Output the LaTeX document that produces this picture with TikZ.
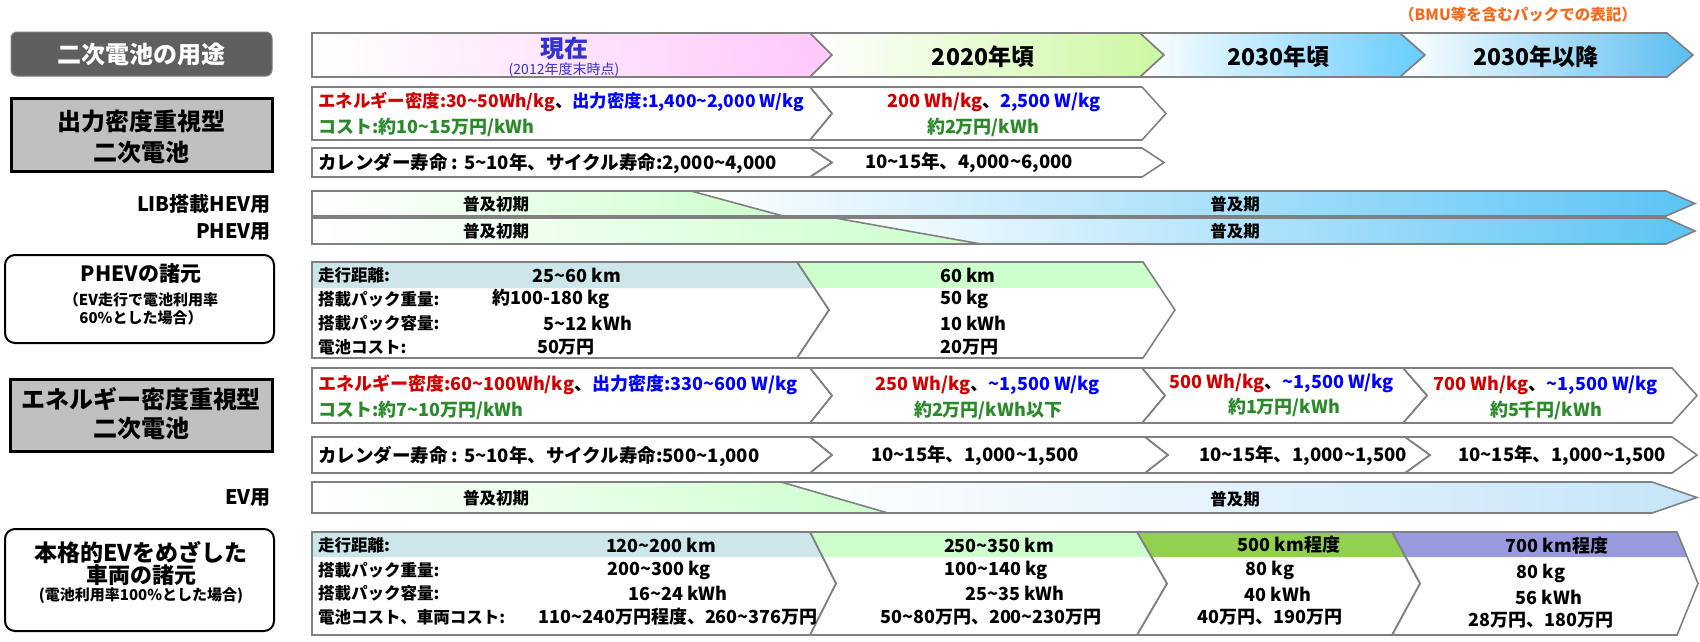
\documentclass[tikz,border=0pt]{standalone}
\usepackage{fontspec}
\setmainfont{Noto Sans CJK JP}
\newcommand\fs[1]{\fontsize{#1}{#1}\selectfont\bfseries}
\newcommand\T{\textasciitilde}
\definecolor{rd}{HTML}{D00000}
\definecolor{bl}{HTML}{0000FF}
\definecolor{gn}{HTML}{2A8A2A}
\definecolor{hb}{HTML}{3333CC}
\definecolor{org}{HTML}{F26B1D}
\definecolor{bordc}{HTML}{808080}
\definecolor{pk}{HTML}{FFC8FA}
\definecolor{lg}{HTML}{CCF7A0}
\definecolor{lbA}{HTML}{66CCFF}
\definecolor{lbB}{HTML}{5BBEF0}
\definecolor{hblue}{HTML}{5BC4F5}
\definecolor{evblue}{HTML}{C5E5F8}
\definecolor{mint}{HTML}{CCFFCC}
\definecolor{tealband}{HTML}{CCE6EA}
\definecolor{grnband}{HTML}{92D050}
\definecolor{lav}{HTML}{9999DD}
\definecolor{dk}{HTML}{5F5F5F}
\definecolor{lgray}{HTML}{C0C0C0}
\newcommand\chev[7][]{%
 \path[bd,#1] (#2,#6) -- (#4,#6) -- (#5,{(#6+#7)/2}) -- (#4,#7) -- (#2,#7) -- (#3,{(#6+#7)/2}) -- cycle;}
\begin{document}
\begin{tikzpicture}[x=1pt,y=-1pt,
  bd/.style={draw=bordc,line width=1.6pt,line join=miter},
  t/.style={inner sep=0pt,font=\fs{18}},
  tw/.style={t,anchor=west},
  cal/.style={inner sep=0pt,font=\fs{18.5}},
  sl/.style={inner sep=0pt,font=\fs{16.5},anchor=west},
  bar/.style={inner sep=0pt,font=\fs{16.5}},
  lab/.style={inner sep=0pt,font=\fs{20},anchor=east},
  ttl/.style={inner sep=0pt,font=\fs{24}},
  yr/.style={inner sep=0pt,font=\fs{23}},
  sub/.style={inner sep=0pt,font=\fs{15}},
  gbox/.style={draw=black,line width=3pt,fill=lgray},
  wbox/.style={draw=black,line width=2pt,rounded corners=10pt}]
\useasboundingbox (0,0) rectangle (1700,641);
% ---------- header ----------
\node[inner sep=0pt,font=\fs{15.5},text=org] (note) at (1518,15) {（BMU等を含むパックでの表記）};
\draw[draw=bordc,line width=1pt,fill=dk,rounded corners=6pt] (11,32) rectangle (272,76);
\node[inner sep=0pt,font=\fs{24},text=white] (use) at (141,54) {二次電池の用途};
\chev[left color=white,right color=pk]{312}{312}{810}{832}{33}{77}
\chev[left color=white,right color=lg]{810}{832}{1140}{1164}{33}{77}
\chev[left color=white,right color=lbA]{1140}{1164}{1400}{1425}{33}{77}
\chev[left color=white,right color=lbB]{1400}{1425}{1667}{1693}{33}{77}
\node[inner sep=0pt,font=\fs{24},text=hb] (now) at (564,48) {現在};
\node[inner sep=0pt,font=\fontsize{14}{14}\selectfont,text=hb] (nowsub) at (564,70) {(2012年度末時点)};
\node[yr] (y2020) at (983,57) {2020年頃};
\node[yr] (y2030) at (1278,57) {2030年頃};
\node[yr] (y2030b) at (1536,57) {2030年以降};
% ---------- power-type battery ----------
\draw[gbox] (11,98) rectangle (272,171);
\node[ttl] (p1) at (141,121) {出力密度重視型};
\node[ttl] (p2) at (141,152) {二次電池};
\chev{312}{312}{810}{832}{87}{140}
\chev{810}{832}{1142}{1166}{87}{140}
\node[tw,font=\fs{17.4}] (e1a) at (318,102) {\textcolor{rd}{エネルギー密度:30\T50Wh/kg}、\textcolor{bl}{出力密度:1,400\T2,000 W/kg}};
\node[tw,text=gn] (e1b) at (318,127) {コスト:約10\T15万円/kWh};
\node[t] (e1c) at (994,102) {\textcolor{rd}{200 Wh/kg}、\textcolor{bl}{2,500 W/kg}};
\node[t,text=gn] (e1d) at (983,127) {約2万円/kWh};
\chev{312}{312}{810}{832}{148}{177}
\chev{810}{832}{1142}{1164}{148}{177}
\node[cal,anchor=west] (c1a) at (318,163) {カレンダー寿命 : 5\T10年、サイクル寿命:2,000\T4,000};
\node[cal] (c1b) at (969,163) {10\T15年、4,000\T6,000};
% ---------- HEV / PHEV bars ----------
\node[lab] (hevl) at (271,204) {LIB搭載HEV用};
\node[lab] (phevl) at (271,232) {PHEV用};
\path[left color=white,right color=mint] (312,191) -- (691,191) -- (783,216) -- (312,216) -- cycle;
\path[left color=white,right color=hblue] (691,191) -- (1666,191) -- (1695,203.5) -- (1666,216) -- (783,216) -- cycle;
\chev{312}{312}{1666}{1695}{191}{216}
\draw[bd] (691,191) -- (783,216);
\path[left color=white,right color=mint] (312,218) -- (835,218) -- (981,244) -- (312,244) -- cycle;
\path[left color=white,right color=hblue] (835,218) -- (1666,218) -- (1695,231) -- (1666,244) -- (981,244) -- cycle;
\chev{312}{312}{1666}{1695}{218}{244}
\draw[bd] (835,218) -- (981,244);
\node[bar] (h1) at (496,204) {普及初期};
\node[bar] (h2) at (1235,204) {普及期};
\node[bar] (ph1) at (496,231) {普及初期};
\node[bar] (ph2) at (1235,231) {普及期};
% ---------- PHEV specs ----------
\draw[wbox] (5,255) rectangle (274,343);
\node[inner sep=0pt,font=\fs{21}] (ps1) at (141,274) {PHEVの諸元};
\node[sub] (ps2) at (141,300) {（EV走行で電池利用率};
\node[sub] (ps3) at (141,318) {60\%とした場合）};
\fill[tealband] (312,262) -- (797,262) -- (814.3,288) -- (312,288) -- cycle;
\fill[mint] (797,262) -- (1143,262) -- (1160.3,288) -- (814.3,288) -- cycle;
\chev{312}{312}{797}{829}{262}{358}
\chev{797}{829}{1143}{1175}{262}{358}
\node[sl] (pa1) at (318,275) {走行距離:};
\node[sl] (pa2) at (318,299) {搭載パック重量:};
\node[sl] (pa3) at (318,323) {搭載パック容量:};
\node[sl] (pa4) at (318,347) {電池コスト:};
\node[t] (pv1) at (577,275) {25\T60 km};
\node[t] (pv2) at (551,299) {約100-180 kg};
\node[t] (pv3) at (588,323) {5\T12 kWh};
\node[t] (pv4) at (566,347) {50万円};
\node[tw] (pw1) at (940,275) {60 km};
\node[tw] (pw2) at (940,299) {50 kg};
\node[tw] (pw3) at (940,323) {10 kWh};
\node[tw] (pw4) at (940,347) {20万円};
% ---------- energy-type battery ----------
\draw[gbox] (10,379) rectangle (272,451);
\node[ttl] (q1) at (141,399) {エネルギー密度重視型};
\node[ttl] (q2) at (141,428) {二次電池};
\chev{312}{312}{810}{832}{368}{423}
\chev{810}{832}{1142}{1165}{368}{423}
\chev{1142}{1165}{1403}{1427}{368}{423}
\chev{1403}{1427}{1672}{1697}{368}{423}
\node[tw] (e2a) at (318,385) {\textcolor{rd}{エネルギー密度:60\T100Wh/kg}、\textcolor{bl}{出力密度:330\T600 W/kg}};
\node[tw,text=gn] (e2b) at (318,410) {コスト:約7\T10万円/kWh};
\node[t] (e2c) at (988,385) {\textcolor{rd}{250 Wh/kg}、\textcolor{bl}{\T1,500 W/kg}};
\node[t,text=gn] (e2d) at (988,410) {約2万円/kWh以下};
\node[t] (e2e) at (1282,383) {\textcolor{rd}{500 Wh/kg}、\textcolor{bl}{\T1,500 W/kg}};
\node[t,text=gn] (e2f) at (1284,407) {約1万円/kWh};
\node[t] (e2g) at (1546,385) {\textcolor{rd}{700 Wh/kg}、\textcolor{bl}{\T1,500 W/kg}};
\node[t,text=gn] (e2h) at (1546,410) {約5千円/kWh};
\chev{312}{312}{810}{832}{437}{473}
\chev{810}{832}{1145}{1168}{437}{473}
\chev{1145}{1168}{1405}{1430}{437}{473}
\chev{1405}{1430}{1672}{1697}{437}{473}
\node[cal,anchor=west] (c2a) at (318,456) {カレンダー寿命 : 5\T10年、サイクル寿命:500\T1,000};
\node[cal] (c2b) at (975,456) {10\T15年、1,000\T1,500};
\node[cal] (c2c) at (1303,456) {10\T15年、1,000\T1,500};
\node[cal] (c2d) at (1562,456) {10\T15年、1,000\T1,500};
% ---------- EV bar ----------
\node[lab] (evl) at (271,498) {EV用};
\path[left color=white,right color=mint] (312,482) -- (781,482) -- (888,513) -- (312,513) -- cycle;
\path[left color=white,right color=evblue] (781,482) -- (1652,482) -- (1697,497.5) -- (1652,513) -- (888,513) -- cycle;
\chev{312}{312}{1652}{1697}{482}{513}
\draw[bd] (781,482) -- (888,513);
\node[bar] (ev1) at (496,498) {普及初期};
\node[bar] (ev2) at (1235,499) {普及期};
% ---------- EV specs ----------
\draw[wbox] (5,529) rectangle (274,631);
\node[inner sep=0pt,font=\fs{23}] (es1) at (141,552) {本格的EVをめざした};
\node[inner sep=0pt,font=\fs{22}] (es2) at (141,575) {車両の諸元};
\node[sub] (es3) at (141,596) {(電池利用率100\%とした場合)};
\fill[tealband] (312,532) -- (810,532) -- (822.6,557) -- (312,557) -- cycle;
\fill[mint] (810,532) -- (1137,532) -- (1151.6,557) -- (822.6,557) -- cycle;
\fill[grnband] (1137,532) -- (1392,532) -- (1405.6,557) -- (1151.6,557) -- cycle;
\fill[lav] (1392,532) -- (1677,532) -- (1687.2,557) -- (1405.6,557) -- cycle;
\chev{312}{312}{810}{836}{532}{635}
\chev{810}{836}{1137}{1167}{532}{635}
\chev{1137}{1167}{1392}{1420}{532}{635}
\chev{1392}{1420}{1677}{1698}{532}{635}
\node[sl] (ea1) at (318,545) {走行距離:};
\node[sl] (ea2) at (318,570) {搭載パック重量:};
\node[sl] (ea3) at (318,593) {搭載パック容量:};
\node[sl] (ea4) at (318,617) {電池コスト、車両コスト:};
\node[t] (ev11) at (661,545) {120\T200 km};
\node[t] (ev12) at (659,570) {200\T300 kg};
\node[t] (ev13) at (678,593) {16\T24 kWh};
\node[t] (ev14) at (678,617) {110\T240万円程度、260\T376万円};
\node[t] (ev21) at (999,545) {250\T350 km};
\node[t] (ev22) at (996,570) {100\T140 kg};
\node[t] (ev23) at (1015,593) {25\T35 kWh};
\node[t] (ev24) at (991,617) {50\T80万円、200\T230万円};
\node[t] (ev31) at (1289,545) {500 km程度};
\node[t] (ev32) at (1270,570) {80 kg};
\node[t] (ev33) at (1278,594) {40 kWh};
\node[t] (ev34) at (1270,617) {40万円、190万円};
\node[t] (ev41) at (1557,546) {700 km程度};
\node[t] (ev42) at (1541,573) {80 kg};
\node[t] (ev43) at (1549,597) {56 kWh};
\node[t] (ev44) at (1541,620) {28万円、180万円};
\end{tikzpicture}
\end{document}
